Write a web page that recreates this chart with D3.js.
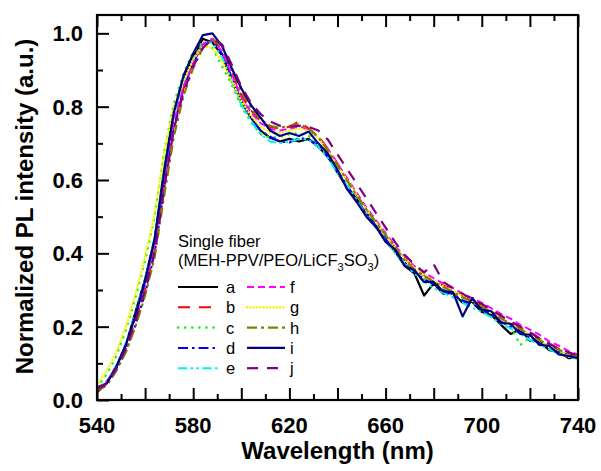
<!DOCTYPE html>
<html>
<head>
<meta charset="utf-8">
<script src="https://cdn.jsdelivr.net/npm/d3@7/dist/d3.min.js"></script>
<style>
  html, body { margin: 0; padding: 0; background: #fff; }
  svg { display: block; font-family: "Liberation Sans", Arial, sans-serif; }
</style>
</head>
<body>
<svg id="chart" width="601" height="471"></svg>
<script>
// Wavelength grid (nm) shared by all spectra
const wavelength = [540,544,548,552,556,560,564,568,572,576,580,584,588,592,596,600,604,608,612,616,620,624,628,632,636,640,644,648,652,656,660,664,668,672,676,680,684,688,692,696,700,704,708,712,716,720,724,728,732,736,740];

// Normalized PL intensity of each single fiber
const fiberA = [0.035,0.045,0.090,0.150,0.240,0.330,0.440,0.630,0.790,0.880,0.935,0.985,0.975,0.940,0.870,0.815,0.770,0.735,0.715,0.705,0.712,0.705,0.712,0.690,0.665,0.620,0.580,0.548,0.505,0.475,0.432,0.405,0.365,0.345,0.285,0.318,0.290,0.292,0.265,0.268,0.240,0.232,0.205,0.180,0.192,0.162,0.160,0.136,0.132,0.114,0.116];
const fiberB = [0.020,0.045,0.085,0.140,0.215,0.300,0.410,0.590,0.750,0.850,0.920,0.970,0.985,0.955,0.895,0.830,0.790,0.760,0.745,0.740,0.745,0.760,0.740,0.720,0.685,0.645,0.600,0.560,0.520,0.485,0.450,0.415,0.385,0.360,0.340,0.325,0.312,0.305,0.285,0.270,0.258,0.245,0.228,0.212,0.198,0.185,0.168,0.150,0.140,0.128,0.118];
const fiberC = [0.035,0.070,0.120,0.190,0.280,0.380,0.500,0.680,0.810,0.890,0.950,0.975,0.960,0.910,0.860,0.800,0.760,0.725,0.715,0.718,0.725,0.728,0.720,0.700,0.665,0.620,0.585,0.545,0.505,0.470,0.438,0.405,0.375,0.350,0.330,0.318,0.300,0.292,0.280,0.265,0.248,0.232,0.215,0.200,0.150,0.170,0.165,0.140,0.135,0.120,0.115];
const fiberD = [0.025,0.040,0.080,0.135,0.205,0.290,0.400,0.580,0.745,0.850,0.920,0.970,0.980,0.945,0.880,0.815,0.770,0.735,0.718,0.705,0.702,0.715,0.710,0.695,0.662,0.625,0.585,0.545,0.510,0.475,0.440,0.405,0.375,0.350,0.330,0.315,0.300,0.288,0.272,0.262,0.248,0.232,0.214,0.200,0.186,0.170,0.156,0.143,0.132,0.122,0.115];
const fiberE = [0.030,0.050,0.095,0.155,0.235,0.330,0.445,0.625,0.775,0.865,0.930,0.975,0.975,0.935,0.870,0.805,0.760,0.725,0.705,0.700,0.705,0.712,0.710,0.690,0.660,0.620,0.585,0.545,0.505,0.470,0.435,0.400,0.370,0.345,0.322,0.305,0.292,0.280,0.265,0.252,0.240,0.225,0.208,0.195,0.180,0.164,0.150,0.138,0.126,0.118,0.112];
const fiberF = [0.030,0.050,0.090,0.150,0.225,0.315,0.425,0.605,0.760,0.855,0.920,0.970,0.985,0.950,0.890,0.825,0.785,0.755,0.740,0.735,0.740,0.745,0.738,0.715,0.685,0.645,0.605,0.565,0.525,0.490,0.455,0.420,0.390,0.365,0.348,0.332,0.318,0.305,0.290,0.278,0.265,0.250,0.235,0.222,0.205,0.192,0.178,0.160,0.148,0.134,0.124];
const fiberG = [0.040,0.080,0.130,0.200,0.290,0.390,0.510,0.680,0.800,0.870,0.930,0.965,0.960,0.925,0.870,0.815,0.775,0.745,0.730,0.728,0.735,0.740,0.735,0.715,0.680,0.640,0.600,0.560,0.520,0.485,0.450,0.415,0.385,0.360,0.340,0.325,0.310,0.298,0.285,0.270,0.255,0.240,0.222,0.208,0.194,0.178,0.162,0.148,0.136,0.118,0.114];
const fiberH = [0.025,0.040,0.080,0.130,0.200,0.285,0.390,0.560,0.720,0.830,0.905,0.960,0.985,0.965,0.905,0.840,0.795,0.765,0.748,0.742,0.748,0.752,0.740,0.718,0.680,0.640,0.598,0.558,0.520,0.485,0.450,0.415,0.382,0.356,0.338,0.322,0.308,0.295,0.280,0.268,0.254,0.240,0.222,0.208,0.194,0.178,0.163,0.150,0.137,0.126,0.118];
const fiberI = [0.030,0.045,0.090,0.150,0.230,0.325,0.440,0.625,0.785,0.885,0.945,0.995,1.000,0.965,0.905,0.850,0.805,0.770,0.735,0.720,0.728,0.720,0.732,0.700,0.672,0.628,0.575,0.540,0.500,0.472,0.432,0.410,0.366,0.354,0.322,0.322,0.296,0.294,0.228,0.278,0.246,0.242,0.210,0.208,0.180,0.178,0.150,0.148,0.124,0.120,0.114];
const fiberJ = [0.030,0.045,0.085,0.140,0.215,0.300,0.405,0.580,0.740,0.840,0.910,0.960,0.985,0.970,0.915,0.855,0.810,0.780,0.760,0.748,0.745,0.748,0.745,0.735,0.710,0.670,0.630,0.590,0.550,0.510,0.470,0.430,0.395,0.370,0.348,0.370,0.322,0.305,0.290,0.275,0.262,0.246,0.230,0.214,0.200,0.184,0.168,0.154,0.140,0.130,0.122];

const seriesNames = ["a","b","c","d","e","f","g","h","i","j"];
const seriesValues = [fiberA,fiberB,fiberC,fiberD,fiberE,fiberF,fiberG,fiberH,fiberI,fiberJ];

const xTickLabels = [540,580,620,660,700,740];
const yTickLabels = [0.0,0.2,0.4,0.6,0.8,1.0];

// line styles
const styles = [
  {color:"#000000", dash:null, width:2.2},
  {color:"#ff0000", dash:"12,9", width:2},
  {color:"#22ee22", dash:"0.1,7", width:2.6, cap:"round"},
  {color:"#0000ff", dash:"10,4,2.5,4", width:2},
  {color:"#00f0f0", dash:"9,3.5,2.5,3.5,2.5,3.5", width:2},
  {color:"#ff00ff", dash:"7,4", width:2},
  {color:"#f5f500", dash:"0.1,3.2", width:2.4, cap:"round"},
  {color:"#808000", dash:"10,4,3,4", width:2.2},
  {color:"#000080", dash:null, width:2.2},
  {color:"#800080", dash:"11,9", width:2.2}
];

const svg = d3.select("#chart");
const mLeft = 97, mRight = 578, mTop = 15, mBottom = 400;

const x = d3.scaleLinear().domain([540, 740]).range([mLeft, mRight]);
const y = d3.scaleLinear().domain([0, 1.05]).range([mBottom, mTop]);

svg.append("defs").append("clipPath").attr("id","plotClip")
  .append("rect").attr("x", mLeft).attr("y", mTop).attr("width", mRight-mLeft).attr("height", mBottom-mTop);

const line = d3.line().x((d,i)=>x(wavelength[i])).y(d=>y(d));

const plot = svg.append("g").attr("clip-path","url(#plotClip)");
seriesValues.forEach((vals, k) => {
  const s = styles[k];
  plot.append("path")
    .datum(vals)
    .attr("d", line)
    .attr("fill","none")
    .attr("stroke", s.color)
    .attr("stroke-width", s.width)
    .attr("stroke-dasharray", s.dash)
    .attr("stroke-linecap", s.cap || "butt")
    .attr("stroke-linejoin","round");
});

// axes: ticks pointing inward
function styleAxis(g) {
  g.select(".domain").remove();
  g.selectAll("line").attr("stroke","#000").attr("stroke-width",2);
}
const majorX = d3.range(540, 741, 20), minorX = d3.range(550, 740, 20);
const majorY = d3.range(0, 1.01, 0.2), minorY = d3.range(0.1, 1.01, 0.2);

// bottom
svg.append("g").attr("transform",`translate(0,${mBottom})`)
  .call(d3.axisBottom(x).tickValues(majorX).tickSize(-12).tickFormat(""))
  .call(styleAxis);
svg.append("g").attr("transform",`translate(0,${mBottom})`)
  .call(d3.axisBottom(x).tickValues(minorX).tickSize(-6).tickFormat(""))
  .call(styleAxis);
// top
svg.append("g").attr("transform",`translate(0,${mTop})`)
  .call(d3.axisTop(x).tickValues(majorX).tickSize(-12).tickFormat(""))
  .call(styleAxis);
svg.append("g").attr("transform",`translate(0,${mTop})`)
  .call(d3.axisTop(x).tickValues(minorX).tickSize(-6).tickFormat(""))
  .call(styleAxis);
// left
svg.append("g").attr("transform",`translate(${mLeft},0)`)
  .call(d3.axisLeft(y).tickValues(majorY).tickSize(-12).tickFormat(""))
  .call(styleAxis);
svg.append("g").attr("transform",`translate(${mLeft},0)`)
  .call(d3.axisLeft(y).tickValues(minorY).tickSize(-6).tickFormat(""))
  .call(styleAxis);

// frame
svg.append("rect").attr("x", mLeft).attr("y", mTop).attr("width", mRight-mLeft).attr("height", mBottom-mTop)
  .attr("fill","none").attr("stroke","#000").attr("stroke-width",2.2);

// tick labels
svg.append("g").selectAll("text").data(xTickLabels).join("text")
  .attr("x", d=>x(d)).attr("y", 433)
  .attr("text-anchor","middle").attr("font-size",22).attr("font-weight","bold")
  .text(d=>d);
svg.append("g").selectAll("text").data(yTickLabels).join("text")
  .attr("x", 83).attr("y", d=>y(d)).attr("dy","0.36em")
  .attr("text-anchor","end").attr("font-size",22).attr("font-weight","bold")
  .text(d=>d.toFixed(1));

// axis titles
svg.append("text").attr("x", (mLeft+mRight)/2).attr("y", 459)
  .attr("text-anchor","middle").attr("font-size",24).attr("font-weight","bold")
  .text("Wavelength (nm)");
svg.append("text").attr("transform",`translate(33,${(mTop+mBottom)/2 - 1}) rotate(-90)`)
  .attr("text-anchor","middle").attr("font-size",24).attr("font-weight","bold")
  .text("Normalized PL intensity (a.u.)");

// legend
const legend = svg.append("g");
legend.append("text").attr("x",178).attr("y",247).attr("font-size",16.5).text("Single fiber");
const formula = legend.append("text").attr("x",178).attr("y",266).attr("font-size",16.5);
formula.append("tspan").text("(MEH-PPV/PEO/LiCF");
formula.append("tspan").attr("font-size",11).attr("dy",5).text("3");
formula.append("tspan").attr("dy",-5).text("SO");
formula.append("tspan").attr("font-size",11).attr("dy",5).text("3");
formula.append("tspan").attr("dy",-5).text(")");

seriesNames.forEach((name, k) => {
  const col = Math.floor(k / 5), row = k % 5;
  const ly = 287 + row * 20.3;
  const x0 = col === 0 ? 178 : 247, x1 = col === 0 ? 218 : 285;
  const s = styles[k];
  legend.append("line").attr("x1", x0).attr("x2", x1).attr("y1", ly).attr("y2", ly)
    .attr("stroke", s.color).attr("stroke-width", s.width)
    .attr("stroke-dasharray", s.dash).attr("stroke-linecap", s.cap || "butt");
  legend.append("text").attr("x", col === 0 ? 226 : 290).attr("y", ly + 6)
    .attr("font-size",16.5).text(name);
});
</script>
</body>
</html>
